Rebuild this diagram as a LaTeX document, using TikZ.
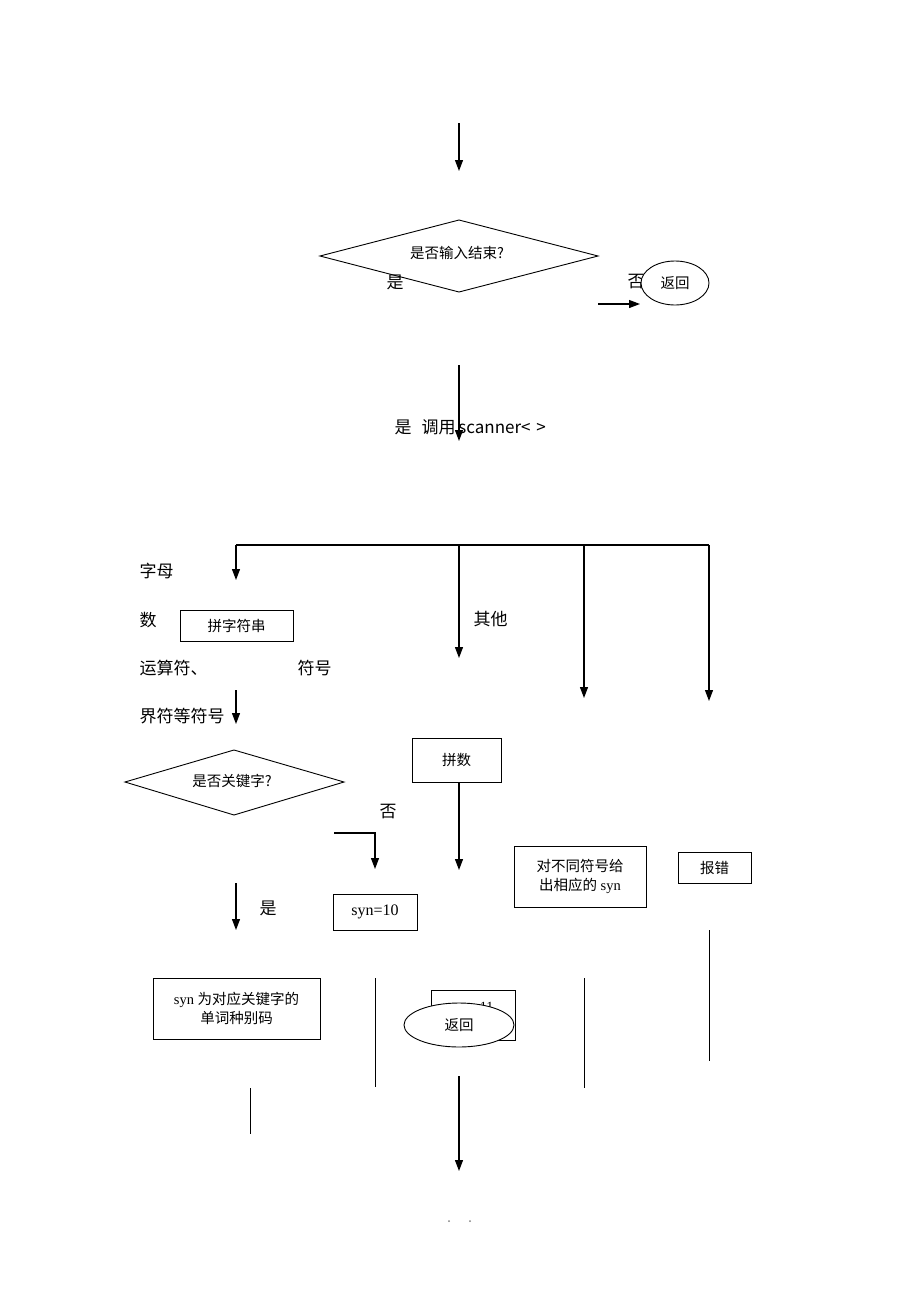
\documentclass[tikz,border=0pt]{standalone}
\usepackage{fontspec}
\setmainfont{Liberation Serif}
\newfontfamily\cjk{Noto Sans CJK SC}
\usetikzlibrary{arrows.meta,shapes.geometric}
\begin{document}
\begin{tikzpicture}[x=1pt,y=-1pt,
  line width=1.2pt,
  arr/.style={-{Triangle[length=11pt,width=8pt]}},
  boxn/.style={draw,line width=0.9pt,inner sep=0pt,font=\fontsize{14.5}{19}\selectfont,align=center},
  dia/.style={draw,line width=0.9pt},
  lbl/.style={font=\cjk\fontsize{17}{19}\selectfont,inner sep=0pt},
  oval/.style={draw,ellipse,line width=0.9pt,fill=white,inner sep=0pt,font=\cjk\fontsize{14.5}{16}\selectfont}]
\useasboundingbox (0,0) rectangle (920,1302);
% top
\coordinate (t0) at (459,123); \coordinate (t1) at (459,171);
\draw[arr] (t0) -- (t1);
\draw[dia] (320,256) coordinate (d1l) -- (459,220) -- (598,256) coordinate (d1r) -- (459,292) -- cycle;
\node[lbl,font=\cjk\fontsize{14.5}{16}\selectfont] (d1) at (457,253) {是否输入结束?};
\node[lbl] (y1) at (395,282) {是};
\node[lbl] (n1) at (636,282) {否};
\node[oval,minimum width=68pt,minimum height=44pt] (ret1) at (675,283) {返回};
\coordinate (a1s) at (598,304); \coordinate (a1e) at (640,304);
\draw[arr] (a1s) -- (a1e);
\coordinate (a2s) at (459,365); \coordinate (a2e) at (459,441);
\draw[arr] (a2s) -- (a2e);
\node[lbl,anchor=west] (call) at (394,427) {是\hspace{10pt}调用\,scanner<\,\,>};
% branch line
\coordinate (h0) at (236,545); \coordinate (h1) at (709,545);
\draw (h0) -- (h1);
\coordinate (b1) at (236,580); \draw[arr] (h0) -- (b1);
\coordinate (h2) at (459,545); \coordinate (b2) at (459,658); \draw[arr] (h2) -- (b2);
\coordinate (h3) at (584,545); \coordinate (b3) at (584,698); \draw[arr] (h3) -- (b3);
\coordinate (b4) at (709,701); \draw[arr] (h1) -- (b4);
% left labels
\node[lbl,anchor=west] (l1) at (139,571) {字母};
\node[lbl,anchor=west] (l2) at (139,620) {数};
\node[boxn,minimum width=113pt,minimum height=31pt,font=\cjk\fontsize{14.5}{16}\selectfont] (pz) at (236.5,625.5) {拼字符串};
\node[lbl,anchor=west] (l3) at (139,668) {运算符、};
\node[lbl,anchor=west] (l4) at (297,668) {符号};
\node[lbl,anchor=west] (l5) at (139,716) {界符等符号};
\coordinate (a3s) at (236,690); \coordinate (a3e) at (236,724);
\draw[arr] (a3s) -- (a3e);
\node[lbl,anchor=west] (qt) at (473,619) {其他};
% keyword diamond
\draw[dia] (125,782) -- (234,750) -- (344,782) -- (234,815) -- cycle;
\node[lbl,font=\cjk\fontsize{14.5}{16}\selectfont] (d2) at (232,781) {是否关键字?};
\node[boxn,minimum width=89pt,minimum height=44pt,font=\cjk\fontsize{14.5}{16}\selectfont] (ps) at (456.5,760) {拼数};
\node[lbl] (n2) at (388,812) {否};
\coordinate (k0) at (334,833); \coordinate (k1) at (375,833); \coordinate (k2) at (375,869);
\draw[arr] (k0) -- (k1) -- (k2);
\coordinate (ps2) at (459,870);
\draw[arr] (ps.south -| ps2) -- (ps2);
\node[boxn,minimum width=132pt,minimum height=61pt] (sym) at (580,876.5) {{\cjk 对不同符号给}\\{\cjk 出相应的} syn};
\node[boxn,minimum width=73pt,minimum height=31pt,font=\cjk\fontsize{14.5}{16}\selectfont] (err) at (714.5,867.5) {报错};
\coordinate (a4s) at (236,883); \coordinate (a4e) at (236,930);
\draw[arr] (a4s) -- (a4e);
\node[lbl] (y2) at (268,908) {是};
\node[boxn,minimum width=84pt,minimum height=36pt,font=\fontsize{16}{19}\selectfont] (s10) at (375,912) {syn=10};
\node[boxn,minimum width=167pt,minimum height=61pt] (kw) at (236.5,1008.5) {syn {\cjk 为对应关键字的}\\{\cjk 单词种别码}};
\coordinate (v1a) at (375,978); \coordinate (v1b) at (375,1087); \draw[line width=0.9pt] (v1a) -- (v1b);
\node[boxn,minimum width=84pt,minimum height=50pt] (s11) at (473,1015) {};
\node[font=\fontsize{14}{16}\selectfont,inner sep=0pt] (s11t) at (473,1008) {syn=11};
\node[oval,minimum width=110pt,minimum height=44pt] (ret2) at (459,1025) {返回};
\coordinate (v2a) at (584,978); \coordinate (v2b) at (584,1088); \draw[line width=0.9pt] (v2a) -- (v2b);
\coordinate (v3a) at (709,930); \coordinate (v3b) at (709,1061); \draw[line width=0.9pt] (v3a) -- (v3b);
\coordinate (v4a) at (250,1088); \coordinate (v4b) at (250,1134); \draw[line width=0.9pt] (v4a) -- (v4b);
\coordinate (a5s) at (459,1076); \coordinate (a5e) at (459,1171);
\draw[arr] (a5s) -- (a5e);
\fill[gray] (449,1221) circle (1pt) (470,1221) circle (1pt);
\end{tikzpicture}
\end{document}
